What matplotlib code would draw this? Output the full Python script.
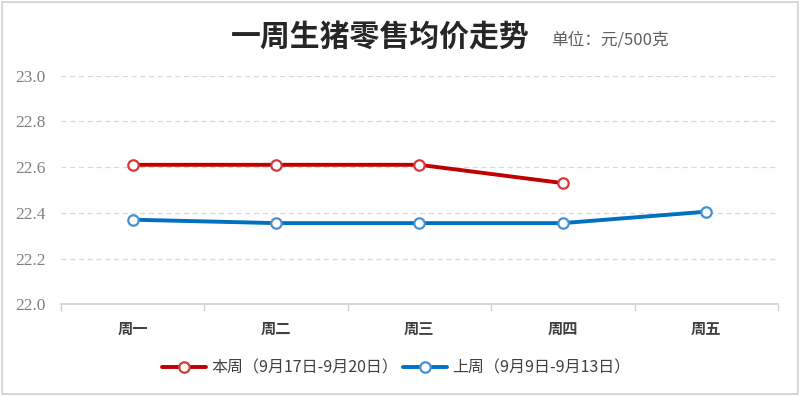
import matplotlib
matplotlib.use("Agg")
import matplotlib.pyplot as plt
from matplotlib.patches import Rectangle

plt.rcParams['font.family'] = ['Noto Sans CJK SC', 'DejaVu Sans']

categories = ["周一", "周二", "周三", "周四", "周五"]
this_week = [22.61, 22.61, 22.61, 22.53]
last_week = [22.37, 22.355, 22.355, 22.355, 22.405]
this_label = "本周（9月17日-9月20日）"
last_label = "上周（9月9日-9月13日）"
yticks = [22.0, 22.2, 22.4, 22.6, 22.8, 23.0]
ytick_labels = ["22.0", "22.2", "22.4", "22.6", "22.8", "23.0"]
title = "一周生猪零售均价走势"
unit = "单位：元/500克"

fig = plt.figure(figsize=(8, 3.96), dpi=100)
ax = fig.add_axes([0.076, 0.2316, 0.8965, 0.5774])

x = list(range(len(categories)))
ax.plot(x[:len(this_week)], this_week, color="#C00000", lw=2.8, marker="o",
        markersize=7.5, markerfacecolor="white", markeredgecolor="#D23B3B",
        markeredgewidth=1.6, label=this_label, zorder=3, solid_capstyle="round")
ax.plot(x, last_week, color="#0070C0", lw=2.8, marker="o",
        markersize=7.5, markerfacecolor="white", markeredgecolor="#4A90D0",
        markeredgewidth=1.6, label=last_label, zorder=3, solid_capstyle="round")

ax.set_xlim(-0.5, len(categories) - 0.5)
ax.set_ylim(22.0, 23.0)
ax.set_yticks(yticks)
ax.set_yticklabels(ytick_labels, family=['Liberation Serif', 'DejaVu Serif'],
                   fontsize=12.5, color="#808080")
ax.set_xticks(x)
ax.set_xticklabels(categories, fontsize=11, color="#404040", fontweight="bold")
ax.set_xticks([i - 0.5 for i in range(len(categories) + 1)], minor=True)
ax.tick_params(axis="x", which="major", length=0, pad=12)
ax.tick_params(axis="x", which="minor", length=5, color="#D0D0D0", width=1)
ax.tick_params(axis="y", length=0, pad=11)

for y in yticks[1:]:
    ax.axhline(y, color="#D9D9D9", lw=0.9, ls=(0, (4, 3)), zorder=1)

for s in ["top", "right", "left"]:
    ax.spines[s].set_visible(False)
ax.spines["bottom"].set_color("#D0D0D0")
ax.spines["bottom"].set_linewidth(1.2)

leg = fig.legend(loc="center", bbox_to_anchor=(0.495, 0.07), ncol=2,
                 frameon=False, fontsize=11.5, handlelength=2.8,
                 handletextpad=0.3, columnspacing=0.3)
for t in leg.get_texts():
    t.set_color("#404040")

fig.text(0.288, 0.905, title, fontsize=21.5, fontweight="bold", color="#262626",
         ha="left", va="center")
fig.text(0.689, 0.9, unit, fontsize=12, color="#606060", ha="left", va="center")

fig.patches.append(Rectangle((0.002, 0.004), 0.995, 0.99, transform=fig.transFigure,
                             fill=False, edgecolor="#D0D0D0", lw=1.2))

fig.savefig("out.png", dpi=100, facecolor="white")
